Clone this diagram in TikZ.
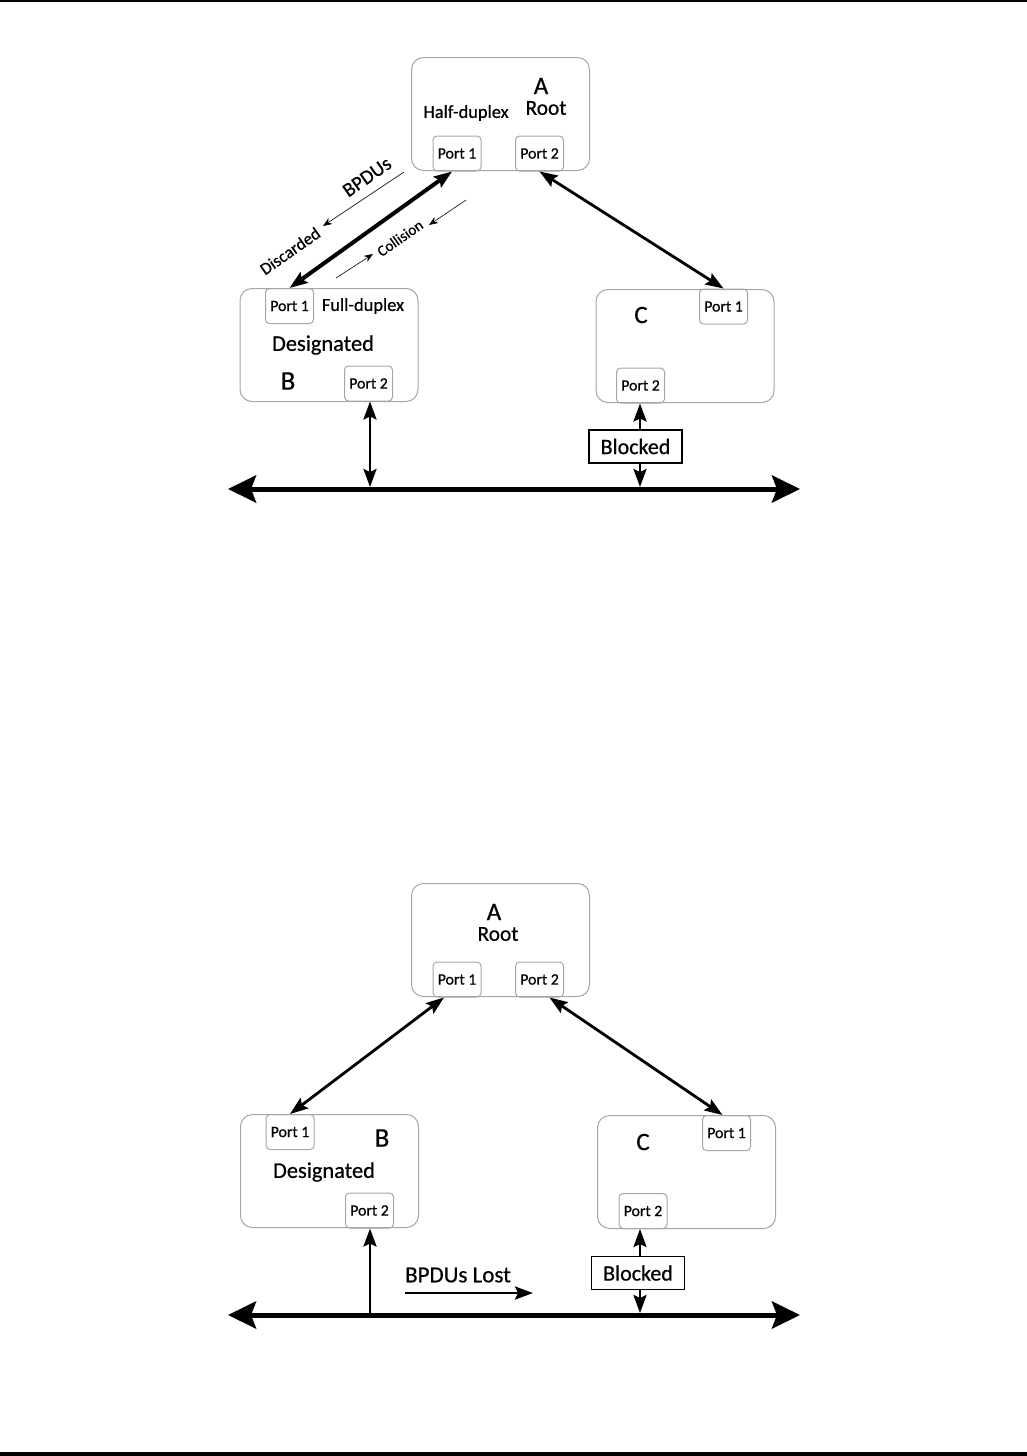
\documentclass[tikz,border=0pt]{standalone}
\usepackage{fontspec}
\setmainfont{Carlito}[FakeBold=0.6]
\usetikzlibrary{arrows.meta}

\begin{document}
\begin{tikzpicture}[x=0.5pt, y=-0.5pt,
                    switch/.style={draw=gray!70, line width=0.5pt, rounded corners=6pt,
                                   minimum width=89pt, minimum height=56.5pt, inner sep=0pt},
                    port/.style={draw=gray!70, line width=0.5pt, rounded corners=2pt,
                                 minimum width=24pt, minimum height=17.5pt, inner sep=0pt,
                                 font=\fontsize{7.9}{9}\selectfont},
                    blockbox/.style={draw, line width=0.6pt, minimum width=46.5pt,
                                     minimum height=16.5pt, inner sep=0pt,
                                     font=\fontsize{11}{13}\selectfont},
                    letter/.style={inner sep=0pt, font=\fontsize{12.5}{14}\selectfont},
                    words/.style={inner sep=0pt, font=\fontsize{9.2}{11}\selectfont},
                    tip/.tip={Stealth[length=9pt,width=6.5pt,inset=1.5pt]},
                    link/.style={line width=1.4pt, tip-tip},
                    bus/.style={line width=2.5pt,
                                {Stealth[length=14pt,width=13.5pt,inset=2.5pt]}-{Stealth[length=14pt,width=13.5pt,inset=2.5pt]}},
                    note/.style={line width=0.3pt, -{Stealth[length=4.5pt,width=3.5pt]}}]

  \useasboundingbox (0,0) rectangle (1027,1456);
  \draw[line width=0.75pt] (0,1) -- (1027,1);
  \draw[line width=2pt] (0,1454) -- (1027,1454);

  % half-duplex / full-duplex mismatch
  \node[switch] (ta) at (500.5,114) {};
  \node[switch] (tb) at (329,345) {};
  \node[switch] (tc) at (685,346) {};

  \node[port] (ta1) at (457,153.5) {Port 1};
  \node[port] (ta2) at (539.5,153.5) {Port 2};
  \node[port] (tb1) at (289.5,306) {Port 1};
  \node[port] (tb2) at (368.5,383.5) {Port 2};
  \node[port] (tc1) at (723.5,306.5) {Port 1};
  \node[port] (tc2) at (640.5,385.5) {Port 2};

  \node[letter] (taname) at (541,86) {A};
  \node[words, font=\fontsize{10.7}{12}\selectfont] (taroot) at (546,108) {Root};
  \node[words] (tahalf) at (466,113) {Half-duplex};
  \node[words] (tbfull) at (363,306) {Full-duplex};
  \node[words, font=\fontsize{11.2}{13}\selectfont] (tbdes) at (323,345) {Designated};
  \node[letter, font=\fontsize{13.5}{15}\selectfont] (tbname) at (288,381) {B};
  \node[letter] (tcname) at (641,315) {C};
  \node[blockbox] (tblk) at (635.5,446.5) {Blocked};

  \coordinate (tbusl) at (228,489);
  \coordinate (tbusr) at (800,489);
  \coordinate (tjb) at (370,487);
  \coordinate (tjc) at (640,487);

  \draw[bus] (tbusl) -- (tbusr);
  \draw[link, line width=2pt] ([xshift=-2.5pt]ta1.south) -- (tb1.north);
  \draw[link] (ta2.south) -- (tc1.north);
  \draw[link] (tjb) -- (tjb |- tb2.south);
  \draw[link, -tip] (tblk.north -| tjc) -- (tjc |- tc2.south);
  \draw[link, -tip] (tblk.south -| tjc) -- (tjc);

  % BPDUs dropped and collisions
  \coordinate (bpdus) at (404,172);
  \coordinate (bpdue) at (323,226);
  \coordinate (cola) at (466,200);
  \coordinate (colb) at (429,225);
  \coordinate (colc) at (336,278);
  \coordinate (cold) at (373,254);
  \draw[note] (bpdus) -- (bpdue);
  \draw[note] (cola) -- (colb);
  \draw[note] (colc) -- (cold);
  \node[words, rotate=35, font=\fontsize{10}{12}\selectfont] (tbpdu) at (367,177) {BPDUs};
  \node[words, rotate=35, font=\fontsize{8.6}{10}\selectfont] (tdisc) at (290,251) {Discarded};
  \node[words, rotate=35, font=\fontsize{7.6}{9}\selectfont] (tcoll) at (400,238) {Collision};

  % BPDUs lost on the shared segment
  \begin{scope}[yshift=-413pt]
    \node[switch] (ba) at (500.5,114) {};
    \node[switch] (bb) at (329.5,345) {};
    \node[switch] (bc) at (686.5,346) {};

    \node[port] (ba1) at (457,153.5) {Port 1};
    \node[port] (ba2) at (539.5,153.5) {Port 2};
    \node[port] (bb1) at (290,306) {Port 1};
    \node[port] (bb2) at (369.5,384.5) {Port 2};
    \node[port] (bc1) at (726.5,307) {Port 1};
    \node[port] (bc2) at (643,385) {Port 2};

    \node[letter] (baname) at (494,86) {A};
    \node[words, font=\fontsize{10.7}{12}\selectfont] (baroot) at (498,108) {Root};
    \node[words, font=\fontsize{11.2}{13}\selectfont] (bbdes) at (324,346) {Designated};
    \node[letter, font=\fontsize{13.5}{15}\selectfont] (bbname) at (382,312) {B};
    \node[letter] (bcname) at (643,316) {C};
    \node[blockbox] (bblk) at (638,447) {Blocked};
    \node[words, font=\fontsize{11.5}{13}\selectfont] (blost) at (458,449) {BPDUs Lost};

    \coordinate (bbusl) at (228,489);
    \coordinate (bbusr) at (800,489);
    \coordinate (bjb) at (370,489);
    \coordinate (bjc) at (640,487);
    \coordinate (lostl) at (405,467);
    \coordinate (lostr) at (533,467);

    \draw[bus] (bbusl) -- (bbusr);
    \draw[link] ([xshift=-6.5pt]ba1.south) -- (bb1.north);
    \draw[link] ([xshift=5pt]ba2.south) -- ([xshift=-2pt]bc1.north);
    \draw[link, -tip] (bjb) -- (bjb |- bb2.south);
    \draw[link, -tip] (bblk.north -| bjc) -- (bjc |- bc2.south);
    \draw[link, -tip] (bblk.south -| bjc) -- (bjc);
    \draw[link, -tip] (lostl) -- (lostr);
  \end{scope}

\end{tikzpicture}
\end{document}
